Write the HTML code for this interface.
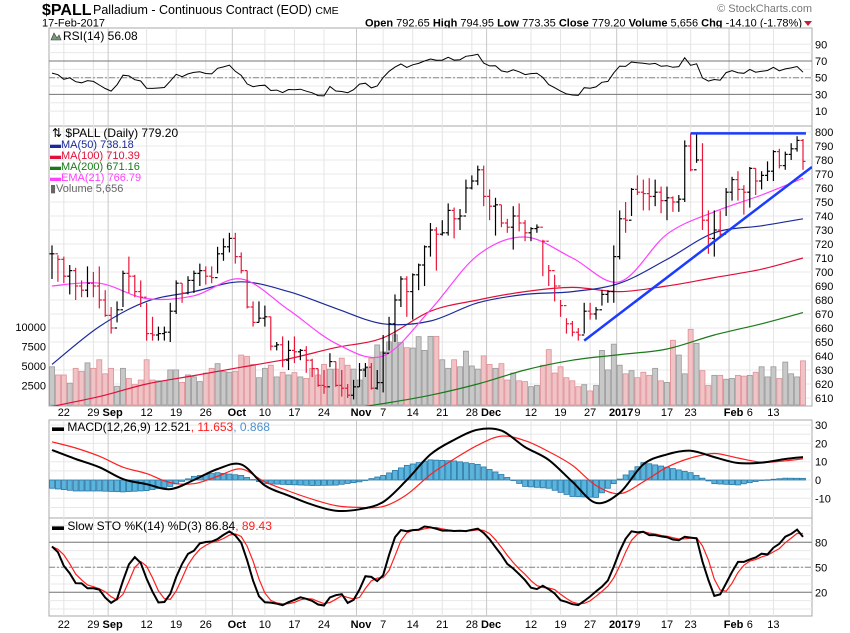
<!DOCTYPE html>
<html><head><meta charset="utf-8"><style>
html,body{margin:0;padding:0;background:#fff;}
svg{display:block;font-family:"Liberation Sans",Arial,sans-serif;}
</style></head><body>
<svg id="chart" width="850" height="633" viewBox="0 0 850 633" xmlns="http://www.w3.org/2000/svg">
<text x="42" y="15" font-size="16" font-weight="bold">$PALL</text>
<text x="93" y="14" font-size="12.5">Palladium - Continuous Contract (EOD) <tspan font-size="10.5">CME</tspan></text>
<text x="42" y="26.5" font-size="11">17-Feb-2017</text>
<text x="812" y="12" font-size="11" fill="#777" text-anchor="end">© StockCharts.com</text>
<text x="802" y="26.5" font-size="11" text-anchor="end"><tspan font-weight="bold">Open</tspan> 792.65  <tspan font-weight="bold">High</tspan> 794.95  <tspan font-weight="bold">Low</tspan> 773.35  <tspan font-weight="bold">Close</tspan> 779.20  <tspan font-weight="bold">Volume</tspan> 5,656  <tspan font-weight="bold">Chg</tspan> -14.10 (-1.78%)</text>
<polygon points="804,21 812,21 808,26" fill="#c0203a"/>
<g id="layer"></g>
</svg>
<script>
const closes=[713,709,697,701,690,687,692,690,680,669,660,673,699,697,686,682,656,655,656,657,672,692,685,694,699,701,697,696,713,718,724,711,701,675,664,667,668,647,648,637,644,643,644,637,631,619,618,636,619,617,612,618,630,632,617,621,642,663,680,695,686,698,705,718,730,727,728,744,738,740,760,765,773,754,747,748,735,732,740,735,728,731,732,722,701,690,676,663,657,655,672,670,673,684,686,711,738,737,759,757,756,754,757,751,753,750,752,790,773,780,737,724,730,727,757,766,759,757,774,765,769,772,786,776,784,788,794,779];
const highs=[719,712,711,705,703,694,704,700,704,687,675,679,701,711,698,694,678,668,661,661,678,694,692,697,701,706,704,704,718,724,728,728,714,701,679,679,676,668,650,654,651,654,645,647,638,631,630,642,636,630,620,623,635,635,635,630,655,668,684,697,697,699,706,719,735,732,737,749,746,745,766,769,776,776,759,753,748,738,747,749,737,732,734,723,705,698,680,667,665,660,678,678,675,687,687,719,744,750,760,769,766,767,766,761,761,754,755,794,799,799,792,744,744,744,760,768,772,762,775,774,772,779,787,788,786,792,797,795];
const lows=[695,693,692,684,680,682,682,682,674,668,656,664,675,685,682,675,651,651,651,651,650,670,678,684,685,690,691,692,699,708,714,706,699,674,661,664,661,644,644,632,630,635,637,628,625,618,613,632,618,611,610,609,618,625,616,616,614,644,650,675,668,666,687,690,711,701,726,726,724,730,742,759,762,747,737,726,732,728,716,729,722,722,728,697,690,679,668,656,654,651,656,666,666,676,678,678,709,728,740,755,744,744,747,742,737,743,743,750,772,778,730,713,711,725,740,751,751,741,746,755,759,765,765,774,773,780,786,773];
const volumes=[4.9,3.85,3.85,2.8,4.7,4.3,5.4,4.7,5.8,4.0,4.7,2.4,4.7,3.4,2.6,3.2,5.8,3.2,3.1,3.1,4.5,4.5,2.9,3.85,3.6,3.0,4.1,4.7,5.3,4.3,4.2,4.3,6.4,6.2,5.2,3.5,4.7,5.1,3.6,4.2,3.85,4.15,3.6,3.4,4.7,3.85,5.2,4.6,4.6,6.0,5.1,4.6,3.2,4.7,6.0,7.7,6.8,8.1,9.0,8.0,7.35,7.3,8.76,7.0,8.8,
8.8,5.8,4.7,5.8,4.9,6.9,5.0,4.6,6.3,5.2,4.7,5.3,3.2,4.1,3.1,3.0,2.35,2.5,5.1,7.1,4.1,4.9,3.5,3.1,2.35,2.6,1.8,2.5,7.0,4.5,7.8,5.1,4.0,4.4,3.5,4.2,3.8,4.7,3.1,2.9,8.3,6.4,4.0,9.7,7.9,4.4,2.5,3.8,3.8,3.3,3.4,3.8,3.7,3.8,4.2,4.9,3.6,4.9,3.4,5.5,4.0,3.6,5.66];
const ma50=[634,661,679,686,693,686,674,663,665,678,684,686,692,709,728,733,738];
const ma100=[604,611,620,626,632,638,646,653,672,680,686,689,686,690,696,702,710];
const ma200=[565,572,580,587,592,597,601,606,612,620,630,637,641,645,655,663,671];
const ema21=[690,692,681,683,695,673,649,640,673,712,725,710,693,727,743,755,767];
const macdLine=[16.4,11.5,7,0.5,-2.3,-5,0,6,8.5,-3,-8.5,-13.5,-16.8,-16,-12,0,14,21.9,27.5,27,18,11,-1,-12.5,-7,8.5,14,16,12.5,9.3,9.5,11.5,12.5];
const signalLine=[20.9,17.5,13,7,3.5,-1.5,-2,2,6,-1,-6,-10.5,-14,-15,-14.5,-8,3,11.5,19,24,21.5,15.5,8,-3,-7.5,-1,7,12,14.5,12,9.7,10.5,11.6];
const priceTicks=[800,790,780,770,760,750,740,730,720,710,700,690,680,670,660,650,640,630,620,610];
const volTicks=[10000,7500,5000,2500];
const rsiTicks=[90,70,50,30,10];
const macdTicks=[30,20,10,0,-10];
const stoTicks=[80,50,20];
const dateLabels=["22","29","Sep","12","19","26","Oct","10","17","24","Nov","7","14","21","28","Dec","12","19","27","2017","9","17","23","Feb","6","13"];
const dateIdx=[2,7,10,16,21,26,31,36,41,46,52,56,61,66,71,74,81,86,91,96,99,104,108,115,118,122];
const resLevel=[799,108,127.5];
const trendLine=[90,651,128.5,775];

const NS="http://www.w3.org/2000/svg";
const layer=document.getElementById('layer');
const N=closes.length;
const L=49,R=812;
const xi=i=>52+i*(803-52)/127;
const yP=p=>132+(800-p)*1.4;
const yR=v=>61+(70-v)*0.835;
const yM=v=>480-v*1.83;
const yS=v=>567.3-(v-50)*0.833;
const yV=k=>405-k*7.8;
function mk(tag,attrs,parent){const e=document.createElementNS(NS,tag);for(const k in attrs)e.setAttribute(k,attrs[k]);(parent||layer).appendChild(e);return e;}
function sampleIdx(arr,step,k){return k===arr.length-1?N-1:k*step;}
function interp(arr,step,i){const last=arr.length-1;for(let k=0;k<last;k++){const a=sampleIdx(arr,step,k),b=sampleIdx(arr,step,k+1);if(i>=a&&i<=b){return arr[k]+(arr[k+1]-arr[k])*(i-a)/(b-a);}}return arr[last];}
const defs=mk('defs',{});
[['cpMain',126,406],['cpRsi',28,126],['cpMacd',420,518],['cpSto',518,616]].forEach(c=>{const cp=mk('clipPath',{id:c[0]},defs);mk('rect',{x:L,y:c[1],width:R-L,height:c[2]-c[1]},cp);});

const panels=[['rsi-panel',28,126],['price-panel',126,406],['macd-panel',420,518],['sto-panel',518,616]];
panels.forEach(p=>{const r=mk('rect',{x:L,y:p[1],width:R-L,height:p[2]-p[1],fill:'#fff',stroke:'#a8a8a8','stroke-width':1});


});
function hgrid(y,top,bot){if(y>top&&y<bot)mk('line',{x1:L,x2:R,y1:y,y2:y,stroke:'#e8e8e8','stroke-width':1});}
for(let p=610;p<=800;p+=10)hgrid(yP(p),126,406);
for(let v=10;v<=90;v+=10)hgrid(yR(v),28,126);
for(let v=-15;v<=30;v+=5)hgrid(yM(v),420,518);
for(let v=0;v<=100;v+=10)hgrid(yS(v),518,616);
const isMonth=d=>isNaN(+d)||d==="2017";
dateLabels.forEach((d,k)=>{const month=isMonth(d);const x=xi(dateIdx[k])-(month?3:0);
panels.forEach(p=>{mk('line',{x1:x,x2:x,y1:p[1],y2:p[2],stroke:month?'#c8c8c8':'#e4e4e4','stroke-width':1});});});

priceTicks.forEach(p=>{const t=mk('text',{x:815,y:yP(p)+4,'font-size':11});t.textContent=p;

});
volTicks.forEach(v=>{const t=mk('text',{x:46,y:yV(v/1000)+4,'font-size':11,'text-anchor':'end'});t.textContent=v;

});
rsiTicks.forEach(v=>{const t=mk('text',{x:815,y:yR(v)+4,'font-size':11});t.textContent=v;

});
macdTicks.forEach(v=>{const t=mk('text',{x:815,y:yM(v)+4,'font-size':11});t.textContent=v;

});
stoTicks.forEach(v=>{const t=mk('text',{x:815,y:yS(v)+4,'font-size':11});t.textContent=v;

});
[416,628].forEach(yy=>{dateLabels.forEach((d,k)=>{const month=isMonth(d);const x=xi(dateIdx[k]);
const t=mk('text',{x:month?x+1.5:x,y:yy,'font-size':11,'text-anchor':'middle','font-weight':month?'bold':'normal'});t.textContent=d;

});});

[70,30].forEach(v=>mk('line',{x1:L,x2:R,y1:yR(v),y2:yR(v),stroke:'#777','stroke-width':1}));
mk('line',{x1:L,x2:R,y1:yR(50),y2:yR(50),stroke:'#888','stroke-width':1,'stroke-dasharray':'6,2,2,2'});
[80,20].forEach(v=>mk('line',{x1:L,x2:R,y1:yS(v),y2:yS(v),stroke:'#777','stroke-width':1}));
mk('line',{x1:L,x2:R,y1:yS(50),y2:yS(50),stroke:'#888','stroke-width':1,'stroke-dasharray':'6,2,2,2'});

const gMain=mk('g',{'clip-path':'url(#cpMain)'});
for(let i=0;i<N;i++){const down=i>0&&closes[i]<closes[i-1];const y=yV(volumes[i]);
const r=mk('rect',{x:xi(i)-2.5,y:y,width:5,height:405-y,fill:down?'#f0c4c6':'#c8c8c8',stroke:down?'#e09096':'#999','stroke-width':0.8},gMain);

}
function sampledLine(arr,step,yf,color,w,g,name){const P=arr.map((v,k)=>[xi(sampleIdx(arr,step,k)),yf(v)]);
let d='M'+P[0][0].toFixed(1)+','+P[0][1].toFixed(1);
for(let k=0;k<P.length-1;k++){const p0=P[Math.max(0,k-1)],p1=P[k],p2=P[k+1],p3=P[Math.min(P.length-1,k+2)];
const c1=[p1[0]+(p2[0]-p0[0])/6,p1[1]+(p2[1]-p0[1])/6],c2=[p2[0]-(p3[0]-p1[0])/6,p2[1]-(p3[1]-p1[1])/6];
d+=' C'+c1.map(v=>v.toFixed(1)).join(',')+' '+c2.map(v=>v.toFixed(1)).join(',')+' '+p2.map(v=>v.toFixed(1)).join(',');}
const pl=mk('path',{d:d,fill:'none',stroke:color,'stroke-width':w},g);

}
sampledLine(ma200,8,yP,'#1a7a1a',1.2,gMain,'ma200-line');
sampledLine(ma100,8,yP,'#e0103a',1.2,gMain,'ma100-line');
sampledLine(ma50,8,yP,'#1a2a9a',1.2,gMain,'ma50-line');
sampledLine(ema21,8,yP,'#ff40ff',1.2,gMain,'ema21-line');
for(let i=0;i<N;i++){const down=i>0&&closes[i]<closes[i-1];const c=down?'#e8173a':'#000';const x=xi(i);const o=i>0?closes[i-1]:closes[i];
const g=mk('g',{stroke:c,'stroke-width':1.2},gMain);


mk('line',{x1:x,x2:x,y1:yP(highs[i]),y2:yP(lows[i])},g);
mk('line',{x1:x-2.5,x2:x,y1:yP(o),y2:yP(o)},g);
mk('line',{x1:x,x2:x+2.5,y1:yP(closes[i]),y2:yP(closes[i])},g);}
const res=mk('line',{x1:xi(resLevel[1]),x2:xi(resLevel[2]),y1:yP(resLevel[0]),y2:yP(resLevel[0]),stroke:'#1a3cff','stroke-width':2.5},gMain);


const tl=mk('line',{x1:xi(trendLine[0]),y1:yP(trendLine[1]),x2:xi(trendLine[2]),y2:yP(trendLine[3]),stroke:'#1a3cff','stroke-width':2.5},gMain);



const rsi=[];let ag=5,al=4;
for(let i=0;i<N;i++){const ch=i>0?closes[i]-closes[i-1]:0;ag=(ag*13+Math.max(ch,0))/14;al=(al*13+Math.max(-ch,0))/14;rsi.push(100-100/(1+ag/al));}
const gR=mk('g',{'clip-path':'url(#cpRsi)'});
const rpts=rsi.map((v,i)=>xi(i).toFixed(1)+','+yR(v).toFixed(1)).join(' ');
const rl=mk('polyline',{points:rpts,fill:'none',stroke:'#000','stroke-width':1},gR);



const gM=mk('g',{'clip-path':'url(#cpMacd)'});
for(let i=0;i<N;i++){const h=interp(macdLine,4,i)-interp(signalLine,4,i);const y0=yM(0),y1=yM(h);
const r=mk('rect',{x:xi(i)-2.5,y:Math.min(y0,y1),width:5,height:Math.max(0.5,Math.abs(y1-y0)),fill:'#5ab4dc',stroke:'#2a78a8','stroke-width':0.8},gM);

}
sampledLine(signalLine,4,yM,'#ff2020',1.2,gM,'macd-signal-line');
sampledLine(macdLine,4,yM,'#000',2,gM,'macd-line');

const raw=[];for(let i=0;i<N;i++){const a=Math.max(0,i-13);let hh=-1e9,ll=1e9;for(let j=a;j<=i;j++){hh=Math.max(hh,highs[j]);ll=Math.min(ll,lows[j]);}raw.push(hh>ll?(closes[i]-ll)/(hh-ll)*100:50);}
const sma3=a=>a.map((v,i)=>{const s=a.slice(Math.max(0,i-2),i+1);return s.reduce((x,y)=>x+y,0)/s.length;});
const kS=sma3(raw),dS=sma3(kS);
const gS=mk('g',{'clip-path':'url(#cpSto)'});
const dl=mk('polyline',{points:dS.map((v,i)=>xi(i).toFixed(1)+','+yS(v).toFixed(1)).join(' '),fill:'none',stroke:'#ff2020','stroke-width':1.2},gS);


const kl=mk('polyline',{points:kS.map((v,i)=>xi(i).toFixed(1)+','+yS(v).toFixed(1)).join(' '),fill:'none',stroke:'#000','stroke-width':2},gS);



function label(x,y,html,name,size){const t=mk('text',{x:x,y:y,'font-size':size||11.5});t.innerHTML=html;

return t;}
mk('polygon',{points:'51,40 54,33 57,38 59,35 61,40',fill:'#7a9a7a',stroke:'#333','stroke-width':0.6});
label(63,40,'RSI(14) 56.08','rsi-legend',12);
label(52,137,'⇅ $PALL (Daily) 779.20','price-legend',12);
label(50,148,'<tspan fill="#1a2a9a">▬MA(50) 738.18</tspan>','ma50-legend',11);
label(50,159,'<tspan fill="#e0103a">▬MA(100) 710.39</tspan>','ma100-legend',11);
label(50,170,'<tspan fill="#1a7a1a">▬MA(200) 671.16</tspan>','ma200-legend',11);
label(50,181,'<tspan fill="#ff40ff">▬EMA(21) 766.79</tspan>','ema21-legend',11);
label(50,192,'<tspan fill="#666">▮Volume 5,656</tspan>','volume-legend',11);
label(52,431,'<tspan>▬ MACD(12,26,9) 12.521</tspan><tspan fill="#ff2020">, 11.653</tspan><tspan fill="#4a90d0">, 0.868</tspan>','macd-legend',12);
label(52,530,'<tspan>▬ Slow STO %K(14) %D(3) 86.84</tspan><tspan fill="#ff2020">, 89.43</tspan>','sto-legend',12);
</script>
</body></html>
